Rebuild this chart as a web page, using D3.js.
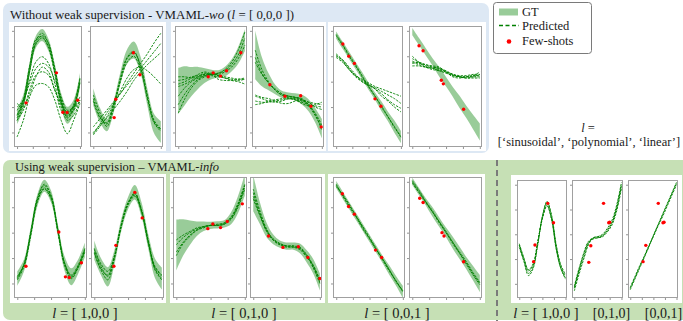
<!DOCTYPE html>
<html><head><meta charset="utf-8">
<script src="https://cdn.jsdelivr.net/npm/d3@7"></script>
<style>
body{margin:0;background:#fff}
svg{display:block}
</style>
</head><body>
<svg id="c" width="683" height="321" font-family="'Liberation Serif', 'DejaVu Serif', serif"></svg>
<script>
// ---------------- DATA (y in % of panel height, x = sample index 0..10) ----------------
const xSamples = [0,1,2,3,4,5,6,7,8,9,10];
const xTickVals = [0,2.5,5,7.5,10];
const yTickVals = [12,33,54,75,96];

const legendLabels = ["GT","Predicted","Few-shots"];
const groupLabels = ["[ 1,0,0 ]","[ 0,1,0 ]","[ 0,0,1 ]"];
const rightLabels = ["[0,1,0]","[0,0,1]"];

// Top row (without weak supervision)
const t1_gt = [24.9,37.3,64.9,87.0,92.5,84.3,63.5,38.7,26.2,33.1,55.2];
const t1_bw = [6,6,5,5,5,5,5,6,7,6,6];
const t1_pred = [
  [24,38,66,88,94,85,62,37,25,33,56],
  [27,36,62,85,90,83,64,40,28,34,53],
  [22,35,63,86,92,86,65,39,24,31,54],
  [26,39,67,89,91,82,61,36,27,35,57],
  [30.4,38.7,52.5,64.9,69.1,66.3,55.2,41.4,30.4,33.1,41.4],
  [22.1,30.4,47.0,59.4,62.2,59.4,47.0,33.1,22.1,26.2,38.7],
  [8.3,22.1,41.4,51.1,52.5,49.7,38.7,22.1,11.0,22.1,35.9],
  [33,38.7,55.2,70.4,74.6,69.1,52.5,30.4,26.2,30.4,38.7],
  [36,33,44,58,66,62,47,36,29,33,37]
];
const t1_shots = [[1.44,36.5],[6.26,61.3],[7.28,28.7],[7.95,28.5],[9.64,38.7]];

const t2_gt = [41.4,26.2,18.0,33.1,56.6,74.6,80.1,67.7,41.4,19.3,12.4];
const t2_bw = [7,6,5,5,5,6,7,7,7,8,9];
const t2_pred = [
  [11,19,28,36,44,53,61,69,77,86,94],
  [16.6,23.5,30.4,37.3,44.2,51.1,58,64.9,71.8,78.7,85.6],
  [10,17,25,35,46,57,64,66,63,58,52],
  [40,25,19,34,57,74,79,66,40,20,13],
  [43,28,17,31,55,73,78,68,43,21,14],
  [38,24,20,35,54,70,75,64,42,22,15],
  [12,18,24,31,38,46,55,62,68,73,78]
];
const t2_shots = [[3.09,24.3],[3.33,39.5],[5.94,77.9],[6.91,59.7]];

const t3_gt = [46.4,50.8,54.1,57.2,59.1,59.9,60.5,62.4,67.4,75.7,88.4];
const t3_bw = [19,16,12,9,6,4,3,4,5,7,9];
const t3_pred = [
  [42,49,54,57,59,60,61,63,68,76,90],
  [35,44,51,56,59,60,60,62,66,73,84],
  [28,40,49,55,58,60,61,64,70,80,95],
  [55,56,58,59,60,60,59,58,57,56,56],
  [52,54,57,60,62,60,56,55,55,56,57],
  [50,52,55,58,61,59,58,57,55,54,52],
  [58,58,57,58,60,61,59,57,56,55,56]
];
const t3_shots = [[4.5,58.0],[5.25,61.3],[6.35,58.6],[7.25,63.0],[9.4,77.9]];

const t4_gt = [76.0,62.2,53.9,47.5,43.4,42.0,41.4,39.2,34.5,26.2,15.2];
const t4_bw = [20,12,7,4,3,3,3,4,5,6,8];
const t4_pred = [
  [74,61,53,47,43,42,41,39,34,26,16],
  [80,64,54,47,43,42,41,39,35,27,14],
  [70,60,53,48,44,42,41,40,35,28,18],
  [42,40,38,37,38,40,40,38,37,36,35],
  [38,37,37,38,39,40,39,37,35,34,33],
  [35,36,38,39,40,41,39,36,34,35,37],
  [43,41,40,38,36,36,38,39,37,33,31]
];
const t4_shots = [[2.2,51.4],[4.46,42.0],[6.82,42.3],[8.36,33.7],[9.9,16.6]];

const t5_gt = [92.5,84.1,75.7,67.3,58.9,50.4,42.0,33.6,25.2,16.8,8.3];
const t5_bw = [3,3,3,3,3,3,3,4,4,5,5];
const t5_pred = [
  [93,85,76,68,59,50,42,34,25,17,8],
  [92,84,75,67,58,50,42,33,25,16,9],
  [75,72,66,60,54,51,49,46,43,40,36],
  [76,71,64,58,54,51,48,44,39,35,32],
  [74,70,64,59,56,53,50,48,46,44,42],
  [77,72,65,59,55,52,48,42,38,33,29]
];
const t5_shots = [[1.03,85.1],[1.95,75.1],[2.82,69.1],[6.0,39.8],[6.92,33.7]];

const t6_gt = [95.3,87,78.7,70.4,62.1,53.9,45.6,37.3,29,20.7,12.4];
const t6_bw = [3,3,3,3,4,4,4,5,5,6,7];
const t6_pred = [
  [73,70,67,65,63,61,59,58,58,59,62],
  [70,68,66,65,64,62,60,59,59,60,60],
  [67,67,66,66,65,63,60,58,57,57,57],
  [71,69,68,66,65,62,58,57,58,59,59],
  [69,70,68,67,66,62,59,58,58,58,58],
  [75,70,66,64,63,62,60,58,57,58,60]
];
const t6_shots = [[1,83.7],[1.6,79.6],[4.3,55.2],[4.6,52.2],[7.6,31.2]];

// Bottom row (with weak supervision)
const b1_gt = [16.1,27.1,53.5,81.2,92.8,83.9,56.2,28.5,17.5,25.8,39.6];
const b1_bw = [6,5,5,5,5,5,5,6,7,6,6];
const b1_pred = [
  [17,28,54,82,93,84,56,28,17,26,40],
  [15,26,52,80,91,83,57,29,18,25,39],
  [18,27,53,81,90,82,55,29,19,27,41],
  [16,28,55,83,94,85,56,27,16,25,38]
];
const b1_shots = [[1.28,26.3],[6.15,54.6],[7.13,17.5],[7.69,16.9],[9.49,29.1]];

const b2_gt = [39.6,25.8,17.5,34.1,60.4,78.4,87.3,72.9,46.5,24.4,16.1];
const b2_bw = [8,7,8,6,5,5,6,6,6,8,9];
const b2_pred = [
  [40,26,18,34,60,78,86,72,46,24,16],
  [38,24,19,35,61,79,85,71,45,25,18],
  [41,28,22,35,59,77,84,72,47,26,19],
  [37,23,15,33,60,78,87,73,47,23,15]
];
const b2_shots = [[2.9,26.3],[3.2,43.5],[6.0,87.3],[7.1,66.2]];

const b3_gt = [43.8,50.1,54.0,57.3,59.3,60.1,60.4,61.2,65.9,77.0,93.6];
const b3_bw = [21,15,10,6,4,3,3,3,5,7,9];
const b3_pred = [
  [44,50,54,57,59,60,60,61,66,77,93],
  [38,46,52,56,59,60,61,62,67,78,94],
  [48,52,55,58,59,60,60,61,65,75,90],
  [35,45,51,56,58,60,60,62,66,76,92]
];
const b3_shots = [[4.6,57.3],[5.33,61.2],[6.46,58.2],[7.44,63.2],[9.64,77.8]];

const b4_gt = [86.7,70.1,56.2,48.5,44.6,42.9,42.9,41.0,34.6,26.3,13.3];
const b4_bw = [15,9,6,4,3,3,3,4,5,6,7];
const b4_pred = [
  [87,70,56,48,44,43,43,41,35,26,13],
  [82,68,56,49,45,43,42,40,34,27,15],
  [90,72,57,48,44,42,42,41,35,25,12],
  [84,69,55,48,45,43,43,42,36,27,14]
];
const b4_shots = [[2.3,51.2],[4.46,41.8],[6.77,42.4],[8.2,33.5],[10,16.1]];

const b5_gt = [93.6,84.7,75.9,67.0,58.2,49.3,40.4,31.6,22.7,13.9,5.0];
const b5_bw = [3,3,3,3,3,3,3,3,4,4,5];
const b5_pred = [
  [93,85,76,68,58,49,40,31,22,14,5],
  [94,84,75,67,59,50,41,32,23,13,6],
  [92,85,77,67,57,49,40,32,23,14,6]
];
const b5_shots = [[0.92,86.1],[1.85,75.6],[2.72,69.3],[5.9,39.6],[6.82,33.5]];

const b6_gt = [96.4,88,79.5,71.1,62.6,54.2,45.7,37.3,28.8,20.4,11.9];
const b6_bw = [3,3,3,4,4,4,5,5,5,6,7];
const b6_pred = [
  [96,88,79,71,62,54,45,37,29,20,12],
  [95,87,79,71,63,55,46,38,30,21,13],
  [97,89,80,72,63,54,46,37,28,19,11]
];
const b6_shots = [[1.1,82.5],[1.6,78.9],[4.4,54.0],[4.7,51.2],[7.6,29.9]];

// Right: mixed task, predictions only
const s1_pred = [
  [44.9,32.2,20.9,26.5,46.3,68.9,80.8,68.9,43.5,26.5,18.6],
  [46,34,23,28,47,68,79,67,42,25,17],
  [43,31,19,25,45,69,82,70,45,28,20],
  [45,33,24,29,48,67,78,66,41,25,16]
];
const s1_shots = [[3.1,30.8],[3.4,44.9],[6.16,80.2],[7.4,63.8]];

const s2_pred = [
  [8.2,22.3,34.5,46.3,50.6,51.1,52.5,57.6,63.8,76.0,95.8],
  [10,25,37,47,50,51,52,56,62,74,93],
  [6,20,33,45,51,52,54,59,66,79,98],
  [9,24,38,48,51,52,53,57,64,77,96]
];
const s2_shots = [[3.07,30.2],[3.5,44.3],[6.2,80.2],[7.3,63.8],[7.5,64.2]];

const s3_pred = [
  [8.2,17.1,26,34.9,43.8,52.7,61.6,70.5,79.4,88.3,97.2],
  [9,18,27,35,44,52,61,69,78,87,96],
  [7,16,25,34,43,53,62,71,80,89,98]
];
const s3_shots = [[2.77,30.8],[3.36,44.6],[6.06,80.2],[7.08,63.8],[7.3,64.2]];

// ---------------- LAYOUT ----------------
const panels = [
  {f:[14,26,82,147],  gt:t1_gt, bw:t1_bw, pred:t1_pred, shots:t1_shots},
  {f:[90,26,163,147], gt:t2_gt, bw:t2_bw, pred:t2_pred, shots:t2_shots},
  {f:[175,26,247,147],gt:t3_gt, bw:t3_bw, pred:t3_pred, shots:t3_shots},
  {f:[252,26,324,147],gt:t4_gt, bw:t4_bw, pred:t4_pred, shots:t4_shots},
  {f:[333,26,403,147],gt:t5_gt, bw:t5_bw, pred:t5_pred, shots:t5_shots},
  {f:[409,26,482,147],gt:t6_gt, bw:t6_bw, pred:t6_pred, shots:t6_shots},
  {f:[14,177,87,298], gt:b1_gt, bw:b1_bw, pred:b1_pred, shots:b1_shots},
  {f:[91,177,164,298],gt:b2_gt, bw:b2_bw, pred:b2_pred, shots:b2_shots},
  {f:[173,177,247,298],gt:b3_gt,bw:b3_bw, pred:b3_pred, shots:b3_shots},
  {f:[250,177,322,298],gt:b4_gt,bw:b4_bw, pred:b4_pred, shots:b4_shots},
  {f:[333,177,405,298],gt:b5_gt,bw:b5_bw, pred:b5_pred, shots:b5_shots},
  {f:[409,177,482,298],gt:b6_gt,bw:b6_bw, pred:b6_pred, shots:b6_shots},
  {f:[517,180,567,298], gt:null, bw:null, pred:s1_pred, shots:s1_shots},
  {f:[572,180,623,298], gt:null, bw:null, pred:s2_pred, shots:s2_shots},
  {f:[628,180,678,298], gt:null, bw:null, pred:s3_pred, shots:s3_shots}
];

const svg = d3.select("#c");
const GREEN = "rgb(0,128,0)";
const TXT = "#1a1a1a";

// backgrounds
svg.append("rect").attr("x",3).attr("y",3).attr("width",486).attr("height",150).attr("rx",7).attr("fill","#dde8f4");
svg.append("rect").attr("x",3).attr("y",160).attr("width",700).attr("height",160).attr("rx",7).attr("fill","#c6e0b5");

// white group boxes
const groups = [[9,22,166,151],[171,22,326,151],[328,22,486,151],
                [10,174,166,303],[170,174,325,303],[328,174,485,303],[511,175,682,303]];
svg.selectAll("rect.grp").data(groups).join("rect").attr("class","grp")
  .attr("x",d=>d[0]).attr("y",d=>d[1]).attr("width",d=>d[2]-d[0]).attr("height",d=>d[3]-d[1])
  .attr("fill","#fff");

// dashed separator
svg.append("line").attr("x1",497).attr("x2",497).attr("y1",160).attr("y2",321)
  .attr("stroke","#7a7a7a").attr("stroke-width",2).attr("stroke-dasharray","6,4");

// panels
panels.forEach((p,k)=>{
  const [x0,y0,x1,y1] = p.f, w=x1-x0;
  const xs = d3.scaleLinear().domain([0,10]).range([x0+0.045*w, x1-0.03*w]);
  const ys = d3.scaleLinear().domain([0,100]).range([y1,y0]);
  const g = svg.append("g");
  const cid = "clip"+k;
  g.append("clipPath").attr("id",cid).append("rect").attr("x",x0).attr("y",y0).attr("width",w).attr("height",y1-y0);
  g.append("rect").attr("x",x0+0.5).attr("y",y0+0.5).attr("width",w-1).attr("height",y1-y0-1).attr("fill","#fff");
  const inner = g.append("g").attr("clip-path",`url(#${cid})`);
  if(p.gt){
    const area = d3.area().x((d,i)=>xs(xSamples[i])).y0((d,i)=>ys(d-p.bw[i])).y1((d,i)=>ys(d+p.bw[i])).curve(d3.curveCatmullRom);
    inner.append("path").attr("d",area(p.gt)).attr("fill",GREEN).attr("fill-opacity",0.4);
  }
  const line = d3.line().x((d,i)=>xs(xSamples[i])).y(d=>ys(d)).curve(d3.curveCatmullRom);
  inner.selectAll("path.pr").data(p.pred).join("path").attr("class","pr")
    .attr("d",line).attr("fill","none").attr("stroke",GREEN).attr("stroke-width",0.9)
    .attr("stroke-dasharray","2.4,1.2");
  inner.selectAll("circle").data(p.shots).join("circle")
    .attr("cx",d=>xs(d[0])).attr("cy",d=>ys(d[1])).attr("r",1.7).attr("fill","#ff0000");
  // frame
  g.append("rect").attr("x",x0+0.5).attr("y",y0+0.5).attr("width",w-1).attr("height",y1-y0-1)
    .attr("fill","none").attr("stroke","#a0a0a0").attr("stroke-width",1);
  // ticks
  const ax = g.append("g").attr("transform",`translate(0,${y1})`)
    .call(d3.axisBottom(xs).tickValues(xTickVals).tickSize(2).tickFormat(""));
  const ay = g.append("g").attr("transform",`translate(${x0},0)`)
    .call(d3.axisLeft(ys).tickValues(yTickVals).tickSize(2).tickFormat(""));
  [ax,ay].forEach(a=>{a.select(".domain").remove();a.selectAll("line").attr("stroke","#777").attr("stroke-width",0.8);});
});

function txt(x,y,size,anchor){
  return svg.append("text").attr("x",x).attr("y",y).attr("font-size",size)
    .attr("font-family","'Liberation Serif', 'DejaVu Serif', serif")
    .attr("text-anchor",anchor||"start").attr("fill",TXT);
}

// titles
const t1 = txt(10,18.5,12.9);
t1.append("tspan").text("Without weak supervision - VMAML-");
t1.append("tspan").attr("font-style","italic").text("wo");
t1.append("tspan").text(" (");
t1.append("tspan").attr("font-style","italic").text("l");
t1.append("tspan").text(" = [ 0,0,0 ])");

const t2 = txt(15,170.5,12.5);
t2.append("tspan").text("Using weak supervision \u2013 VMAML-");
t2.append("tspan").attr("font-style","italic").text("info");

// group labels
const lx = [85,244,397];
groupLabels.forEach((s,i)=>{
  const t = txt(lx[i],317.5,14.5,"middle");
  t.append("tspan").attr("font-style","italic").text("l");
  t.append("tspan").text(" = "+s);
});
{
  const t = txt(546,317.5,14.5,"middle");
  t.append("tspan").attr("font-style","italic").text("l");
  t.append("tspan").text(" = [ 1,0,0 ]");
  txt(611.5,317.5,14,"middle").text(rightLabels[0]);
  txt(663.5,317.5,14,"middle").text(rightLabels[1]);
}

// l = [...] annotation
{
  const t = txt(588,132,12.5,"middle");
  t.append("tspan").attr("font-style","italic").text("l");
  t.append("tspan").text(" =");
  txt(589,146,12.5,"middle").text("[\u2018sinusoidal\u2019, \u2018polynomial\u2019, \u2018linear\u2019]");
}

// legend
{
  const lg = svg.append("g");
  lg.append("rect").attr("x",493.5).attr("y",2.5).attr("width",98).attr("height",51).attr("rx",3)
    .attr("fill","#fff").attr("stroke","#7a7a7a").attr("stroke-width",1);
  lg.append("rect").attr("x",499).attr("y",8.5).attr("width",19).attr("height",7).attr("fill",GREEN).attr("fill-opacity",0.4);
  lg.append("line").attr("x1",499).attr("x2",519).attr("y1",25.5).attr("y2",25.5)
    .attr("stroke",GREEN).attr("stroke-width",1.3).attr("stroke-dasharray","4,2.5");
  lg.append("circle").attr("cx",509).attr("cy",41.5).attr("r",2.3).attr("fill","#ff0000");
  const ly = [15.5,30,44.5];
  legendLabels.forEach((s,i)=>txt(522,ly[i],12.5).text(s));
}
</script>
</body></html>
